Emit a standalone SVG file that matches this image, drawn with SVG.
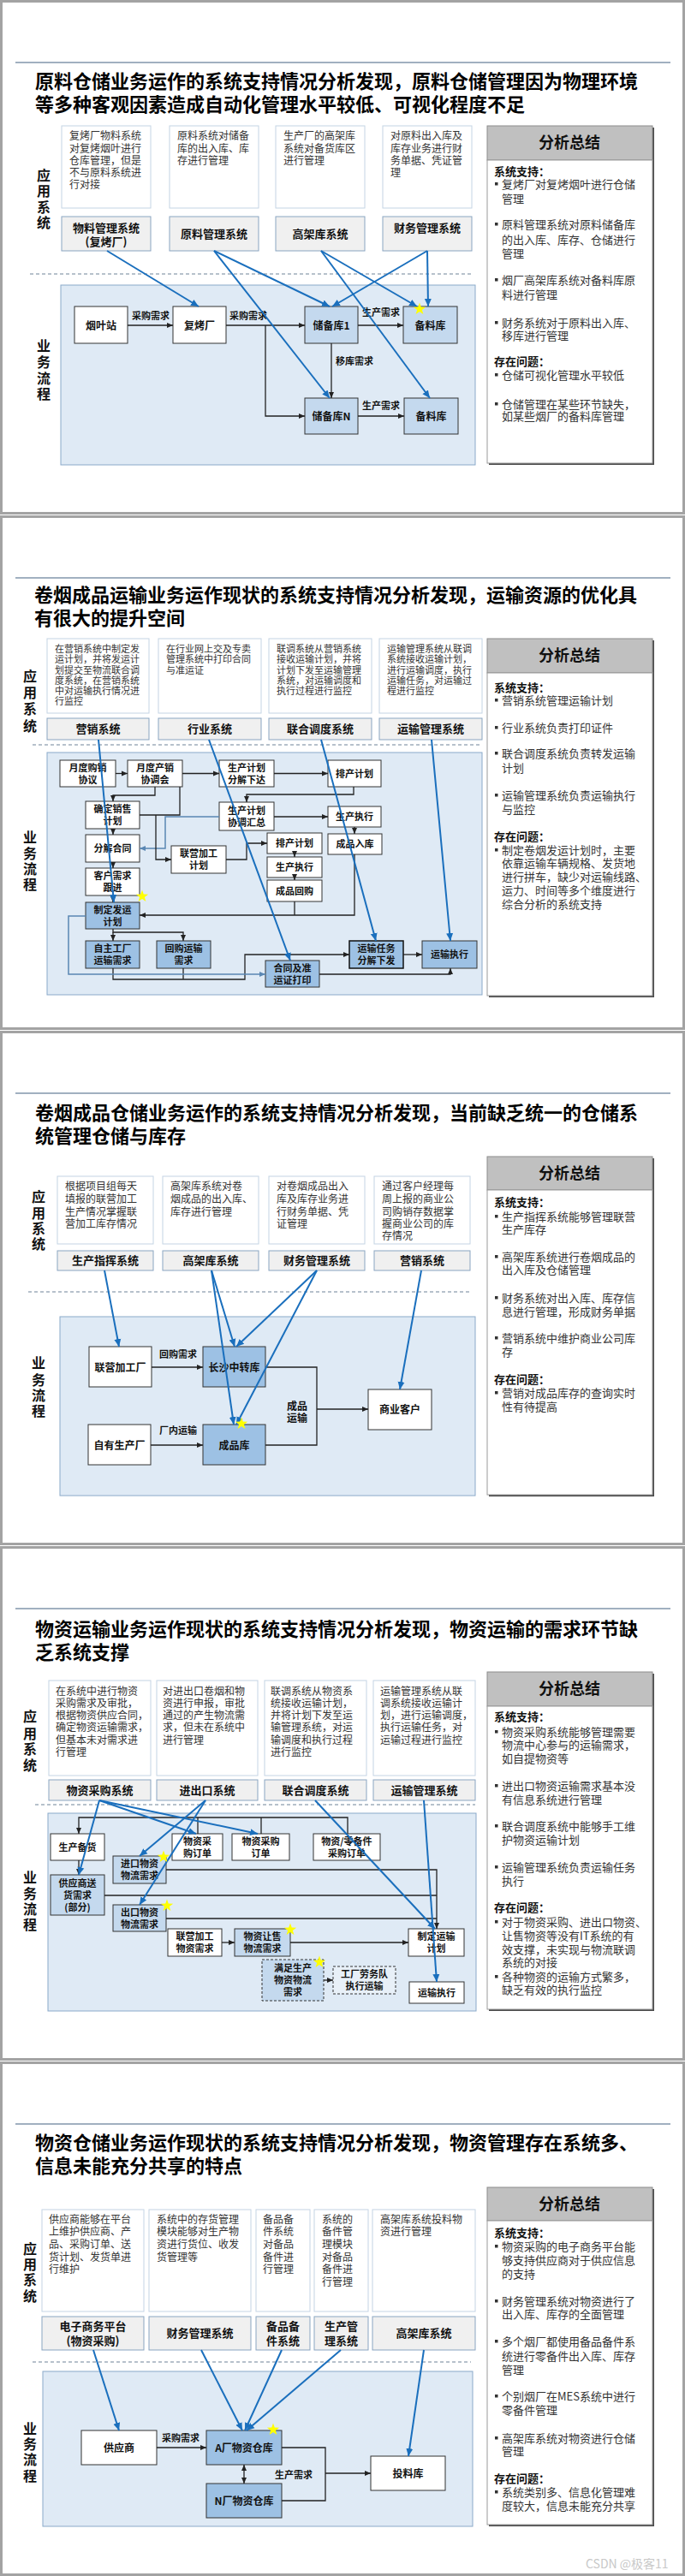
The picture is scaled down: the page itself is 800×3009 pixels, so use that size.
<svg xmlns="http://www.w3.org/2000/svg" width="800" height="3009" viewBox="0 0 800 3009">
<style>
text{font-family:"Noto Sans CJK SC","Liberation Sans",sans-serif}
.frame{fill:#fff;stroke:#a3a3a3;stroke-width:3}
.rule{stroke:#8296ab;stroke-width:1.5}
.title{font-size:22px;font-weight:700;fill:#000}
.desc{fill:#fff;stroke:#c4d4e4}
.dt{font-size:12px;fill:#333}
.dt11{font-size:11px;fill:#333}
.sys{fill:#f0f0f0;stroke:#8aa5c1}
.st{font-size:13px;font-weight:700;fill:#111;text-anchor:middle}
.lane{font-size:16px;font-weight:700;fill:#111;text-anchor:middle}
.dash{stroke:#6f8398;stroke-width:1;stroke-dasharray:4 3}
.proc{fill:#dfeaf5;stroke:#8aa9c9}
.nw{fill:#fff;stroke:#333}
.nb{fill:#c4d9ee;stroke:#333}
.nm{fill:#9dc1e4;stroke:#333}
.nd{fill:#c4d9ee;stroke:#333;stroke-dasharray:3 2}
.nd2{fill:#e8f0f8;stroke:#333;stroke-dasharray:3 2}
.nt{font-size:12px;font-weight:700;fill:#111;text-anchor:middle}
.nt11{font-size:11px;font-weight:700;fill:#111;text-anchor:middle}
.lb{font-size:11px;font-weight:700;fill:#111;text-anchor:middle}
.k{fill:none;stroke:#222;stroke-width:1.3;marker-end:url(#ak)}
.kk{fill:none;stroke:#222;stroke-width:1.3;marker-start:url(#ak);marker-end:url(#ak)}
.kl{fill:none;stroke:#222;stroke-width:1.3}
.ks{fill:none;stroke:#5a87b3;stroke-width:1.5;marker-end:url(#as)}
.b{fill:none;stroke:#1a6fbd;stroke-width:2;marker-end:url(#ab)}
.hdS{fill:#4a4a4a}
.hd{fill:#c0c0c0;stroke:#8c8c8c}
.ht{font-size:18px;font-weight:700;fill:#111;text-anchor:middle}
.bd{fill:#fff;stroke:#9a9a9a}
.pt{font-size:13px;fill:#333}
.ph{font-size:13px;font-weight:700;fill:#111}
.bul{fill:#333}
.star{fill:#ffff00}
.wm{font-size:14px;fill:#c8c8c8}
</style>
<defs>
<marker id="ak" markerUnits="userSpaceOnUse" markerWidth="8" markerHeight="8" refX="7" refY="4" orient="auto-start-reverse"><path d="M0,1 L7,4 L0,7 z" fill="#222"/></marker>
<marker id="as" markerUnits="userSpaceOnUse" markerWidth="8" markerHeight="8" refX="7" refY="4" orient="auto"><path d="M0,1 L7,4 L0,7 z" fill="#5a87b3"/></marker>
<marker id="ab" markerUnits="userSpaceOnUse" markerWidth="10" markerHeight="10" refX="9" refY="5" orient="auto"><path d="M0,1 L9,5 L0,9 z" fill="#1a6fbd"/></marker>
<polygon id="star" points="0,-7.5 1.76,-2.43 7.13,-2.32 2.85,0.93 4.41,6.07 0,3 -4.41,6.07 -2.85,0.93 -7.13,-2.32 -1.76,-2.43"/>
</defs>

<!-- ================= SLIDE 1 ================= -->
<g id="slide1">
<rect class="frame" x="1.5" y="1.5" width="797" height="598"/>
<line class="rule" x1="18" y1="73" x2="783" y2="73"/>
<text class="title" x="41" y="103">原料仓储业务运作的系统支持情况分析发现，原料仓储管理因为物理环境</text>
<text class="title" x="41" y="130">等多种客观因素造成自动化管理水平较低、可视化程度不足</text>
<g id="s1-desc">
<rect class="desc" x="72" y="147" width="104" height="96"/>
<rect class="desc" x="198" y="147" width="104" height="96"/>
<rect class="desc" x="322" y="147" width="104" height="96"/>
<rect class="desc" x="447" y="147" width="104" height="96"/>
<text class="dt"><tspan x="81" y="163">复烤厂物料系统</tspan><tspan x="81" y="177.5">对复烤烟叶进行</tspan><tspan x="81" y="192">仓库管理，但是</tspan><tspan x="81" y="206">不与原料系统进</tspan><tspan x="81" y="220">行对接</tspan></text>
<text class="dt"><tspan x="207" y="163">原料系统对储备</tspan><tspan x="207" y="177.5">库的出入库、库</tspan><tspan x="207" y="192">存进行管理</tspan></text>
<text class="dt"><tspan x="331" y="163">生产厂的高架库</tspan><tspan x="331" y="177.5">系统对备货库区</tspan><tspan x="331" y="192">进行管理</tspan></text>
<text class="dt"><tspan x="456" y="163">对原料出入库及</tspan><tspan x="456" y="177.5">库存业务进行财</tspan><tspan x="456" y="192">务单据、凭证管</tspan><tspan x="456" y="206">理</tspan></text>
</g>
<g id="s1-sys-wl"><rect class="sys" x="72" y="253" width="104" height="40"/><text class="st" x="124" y="271">物料管理系统</text><text class="st" x="124" y="287">(复烤厂)</text></g>
<g id="s1-sys-yl"><rect class="sys" x="198" y="253" width="104" height="40"/><text class="st" x="250" y="278">原料管理系统</text></g>
<g id="s1-sys-gj"><rect class="sys" x="322" y="253" width="104" height="40"/><text class="st" x="374" y="278">高架库系统</text></g>
<g id="s1-sys-cw"><rect class="sys" x="447" y="253" width="104" height="40"/><text class="st" x="499" y="271">财务管理系统</text></g>
<text class="lane" x="51" y="211">应</text><text class="lane" x="51" y="229">用</text><text class="lane" x="51" y="248">系</text><text class="lane" x="51" y="266">统</text>
<line class="dash" x1="35" y1="320" x2="550" y2="320"/>
<rect class="proc" x="71" y="333" width="484" height="210"/>
<text class="lane" x="51" y="410">业</text><text class="lane" x="51" y="429">务</text><text class="lane" x="51" y="448">流</text><text class="lane" x="51" y="466">程</text>
<g id="s1-n1"><rect class="nw" x="87" y="358" width="62" height="43"/><text class="nt" x="118" y="384.5">烟叶站</text></g>
<g id="s1-n2"><rect class="nw" x="202" y="358" width="62" height="43"/><text class="nt" x="233" y="384.5">复烤厂</text></g>
<g id="s1-n3"><rect class="nb" x="356" y="358" width="62" height="43"/><text class="nt" x="387" y="384.5">储备库1</text></g>
<g id="s1-n4"><rect class="nb" x="471" y="358" width="63" height="43"/><text class="nt" x="502.5" y="384.5">备料库</text></g>
<g id="s1-n5"><rect class="nb" x="356" y="465" width="62" height="42"/><text class="nt" x="387" y="490.5">储备库N</text></g>
<g id="s1-n6"><rect class="nb" x="472" y="465" width="63" height="42"/><text class="nt" x="503.5" y="490.5">备料库</text></g>
<g id="s1-connectors">
<path class="k" d="M149,380 H202"/><text class="lb" x="176" y="373">采购需求</text>
<path class="k" d="M264,380 H356"/><text class="lb" x="290" y="373">采购需求</text>
<path class="k" d="M310,380 V486 H356"/>
<path class="k" d="M418,380 H471"/><text class="lb" x="445" y="369">生产需求</text>
<path class="k" d="M387,401 V465"/><text class="lb" x="414" y="426">移库需求</text>
<path class="k" d="M418,486 H472"/><text class="lb" x="445" y="478">生产需求</text>
<path class="b" d="M125,293 L232,358"/>
<path class="b" d="M250,293 L385,358"/>
<path class="b" d="M250,293 L385,465"/>
<path class="b" d="M375,293 L487,358"/>
<path class="b" d="M375,293 L502,465"/>
<path class="b" d="M499,293 L388,358"/>
<path class="b" d="M499,293 L500,358"/>
</g>
<use href="#star" class="star" x="490" y="361"/>
<g id="s1-summary">
<rect class="hdS" x="571" y="149" width="193" height="40"/>
<rect class="hd" x="569" y="147" width="193" height="40"/>
<text class="ht" x="665" y="173">分析总结</text>
<rect class="hdS" x="571" y="189" width="193" height="354"/>
<rect class="bd" x="569" y="187" width="193" height="354"/>
<text class="ph" x="577" y="205">系统支持：</text>
<rect class="bul" x="578" y="213" width="3.5" height="3.5"/><text class="pt" x="586" y="220">复烤厂对复烤烟叶进行仓储</text>
<text class="pt" x="586" y="237">管理</text>
<rect class="bul" x="578" y="260" width="3.5" height="3.5"/><text class="pt" x="586" y="267">原料管理系统对原料储备库</text>
<text class="pt" x="586" y="285">的出入库、库存、仓储进行</text>
<text class="pt" x="586" y="301">管理</text>
<rect class="bul" x="578" y="325" width="3.5" height="3.5"/><text class="pt" x="586" y="332">烟厂高架库系统对备料库原</text>
<text class="pt" x="586" y="349">料进行管理</text>
<rect class="bul" x="578" y="375" width="3.5" height="3.5"/><text class="pt" x="586" y="382">财务系统对于原料出入库、</text>
<text class="pt" x="586" y="397">移库进行管理</text>
<text class="ph" x="577" y="427">存在问题：</text>
<rect class="bul" x="578" y="436" width="3.5" height="3.5"/><text class="pt" x="586" y="443">仓储可视化管理水平较低</text>
<rect class="bul" x="578" y="470" width="3.5" height="3.5"/><text class="pt" x="586" y="477">仓储管理在某些环节缺失，</text>
<text class="pt" x="586" y="491">如某些烟厂的备料库管理</text>
</g>
</g>

<!-- ================= SLIDE 2 ================= -->
<g id="slide2">
<rect class="frame" x="1.5" y="603.5" width="797" height="598"/>
<line class="rule" x1="18" y1="675" x2="783" y2="675"/>
<text class="title" x="40" y="703">卷烟成品运输业务运作现状的系统支持情况分析发现，运输资源的优化具</text>
<text class="title" x="40" y="730">有很大的提升空间</text>
<g id="s2-desc">
<rect class="desc" x="55" y="746" width="119" height="87"/>
<rect class="desc" x="185" y="746" width="120" height="87"/>
<rect class="desc" x="314" y="746" width="120" height="87"/>
<rect class="desc" x="443" y="746" width="120" height="87"/>
<text class="dt11"><tspan x="64" y="762">在营销系统中制定发</tspan><tspan x="64" y="774">运计划，并将发运计</tspan><tspan x="64" y="786.5">划提交至物流联合调</tspan><tspan x="64" y="799">度系统，在营销系统</tspan><tspan x="64" y="811">中对运输执行情况进</tspan><tspan x="64" y="823">行监控</tspan></text>
<text class="dt11"><tspan x="194" y="762">在行业网上交及专卖</tspan><tspan x="194" y="774">管理系统中打印合同</tspan><tspan x="194" y="786.5">与准运证</tspan></text>
<text class="dt11"><tspan x="323" y="762">联调系统从营销系统</tspan><tspan x="323" y="774">接收运输计划，并将</tspan><tspan x="323" y="786.5">计划下发至运输管理</tspan><tspan x="323" y="799">系统，对运输调度和</tspan><tspan x="323" y="811">执行过程进行监控</tspan></text>
<text class="dt11"><tspan x="452" y="762">运输管理系统从联调</tspan><tspan x="452" y="774">系统接收运输计划，</tspan><tspan x="452" y="786.5">进行运输调度，执行</tspan><tspan x="452" y="799">运输任务，对运输过</tspan><tspan x="452" y="811">程进行监控</tspan></text>
</g>
<g id="s2-sys-yx"><rect class="sys" x="55" y="839" width="119" height="25"/><text class="st" x="114.5" y="856">营销系统</text></g>
<g id="s2-sys-hy"><rect class="sys" x="185" y="839" width="120" height="25"/><text class="st" x="245" y="856">行业系统</text></g>
<g id="s2-sys-lh"><rect class="sys" x="314" y="839" width="120" height="25"/><text class="st" x="374" y="856">联合调度系统</text></g>
<g id="s2-sys-ys"><rect class="sys" x="443" y="839" width="120" height="25"/><text class="st" x="503" y="856">运输管理系统</text></g>
<text class="lane" x="35" y="796">应</text><text class="lane" x="35" y="815">用</text><text class="lane" x="35" y="834">系</text><text class="lane" x="35" y="854">统</text>
<line class="dash" x1="38" y1="870" x2="561" y2="870"/>
<rect class="proc" x="55" y="879" width="508" height="283"/>
<text class="lane" x="35" y="984">业</text><text class="lane" x="35" y="1003">务</text><text class="lane" x="35" y="1021">流</text><text class="lane" x="35" y="1039">程</text>
<g id="s2-n1"><rect class="nw" x="70" y="888" width="65" height="31"/><text class="nt11" x="102.5" y="900.5">月度购销</text><text class="nt11" x="102.5" y="914.5">协议</text></g>
<g id="s2-n2"><rect class="nw" x="149" y="888" width="64" height="31"/><text class="nt11" x="181" y="900.5">月度产销</text><text class="nt11" x="181" y="914.5">协调会</text></g>
<g id="s2-n3"><rect class="nw" x="256" y="888" width="64" height="31"/><text class="nt11" x="288" y="900.5">生产计划</text><text class="nt11" x="288" y="914.5">分解下达</text></g>
<g id="s2-n4"><rect class="nw" x="383" y="888" width="62" height="31"/><text class="nt11" x="414" y="907.5">排产计划</text></g>
<g id="s2-n5"><rect class="nw" x="100" y="936" width="63" height="32"/><text class="nt11" x="131.5" y="949">确定销售</text><text class="nt11" x="131.5" y="963">计划</text></g>
<g id="s2-n6"><rect class="nw" x="256" y="937" width="64" height="33"/><text class="nt11" x="288" y="950.5">生产计划</text><text class="nt11" x="288" y="964.5">协调汇总</text></g>
<g id="s2-n7"><rect class="nw" x="383" y="942" width="62" height="24"/><text class="nt11" x="414" y="958">生产执行</text></g>
<g id="s2-n8"><rect class="nw" x="100" y="975" width="63" height="32"/><text class="nt11" x="131.5" y="995">分解合同</text></g>
<g id="s2-n9"><rect class="nw" x="312" y="973" width="64" height="24"/><text class="nt11" x="344" y="989">排产计划</text></g>
<g id="s2-n10"><rect class="nw" x="383" y="974" width="63" height="24"/><text class="nt11" x="414.5" y="990">成品入库</text></g>
<g id="s2-n11"><rect class="nw" x="200" y="988" width="64" height="32"/><text class="nt11" x="232" y="1001">联营加工</text><text class="nt11" x="232" y="1015">计划</text></g>
<g id="s2-n12"><rect class="nw" x="312" y="1001" width="64" height="24"/><text class="nt11" x="344" y="1017">生产执行</text></g>
<g id="s2-n13"><rect class="nw" x="100" y="1014" width="63" height="32"/><text class="nt11" x="131.5" y="1027">客户需求</text><text class="nt11" x="131.5" y="1041">跟进</text></g>
<g id="s2-n14"><rect class="nw" x="312" y="1028" width="64" height="25"/><text class="nt11" x="344" y="1044.5">成品回购</text></g>
<g id="s2-n15"><rect class="nm" x="100" y="1054" width="63" height="31"/><text class="nt11" x="131.5" y="1066.5">制定发运</text><text class="nt11" x="131.5" y="1080.5">计划</text></g>
<g id="s2-n16"><rect class="nm" x="100" y="1099" width="63" height="32"/><text class="nt11" x="131.5" y="1112">自主工厂</text><text class="nt11" x="131.5" y="1126">运输需求</text></g>
<g id="s2-n17"><rect class="nm" x="183" y="1099" width="63" height="32"/><text class="nt11" x="214.5" y="1112">回购运输</text><text class="nt11" x="214.5" y="1126">需求</text></g>
<g id="s2-n18"><rect class="nm" x="310" y="1122" width="63" height="31"/><text class="nt11" x="341.5" y="1134.5">合同及准</text><text class="nt11" x="341.5" y="1148.5">运证打印</text></g>
<g id="s2-n19"><rect class="nm" x="408" y="1099" width="63" height="32" style="stroke:#111;stroke-width:1.5"/><text class="nt11" x="439.5" y="1112">运输任务</text><text class="nt11" x="439.5" y="1126">分解下发</text></g>
<g id="s2-n20"><rect class="nm" x="493" y="1099" width="64" height="32"/><text class="nt11" x="525" y="1119">运输执行</text></g>
<g id="s2-connectors">
<path class="k" d="M135,903.5 H149"/>
<path class="k" d="M213,903.5 H256"/>
<path class="k" d="M320,903.5 H383"/>
<path class="k" d="M181,919 V929 H132 V936"/>
<path class="kl" d="M163,952 H210 V919"/>
<path class="k" d="M413,919 V928 H288 V937"/>
<path class="k" d="M320,954 H383"/>
<path class="k" d="M414,966 V974"/>
<path class="ks" d="M256,954 H193 V991 H163"/>
<path class="k" d="M132,968 V975"/>
<path class="k" d="M182,952 V1004 H200"/>
<path class="k" d="M264,1004 H288 V985 H312"/>
<path class="k" d="M344,997 V1001"/>
<path class="k" d="M344,1025 V1028"/>
<path class="k" d="M132,1007 V1014"/>
<path class="k" d="M132,1046 V1054"/>
<path class="kl" d="M344,1053 V1069"/>
<path class="k" d="M414,998 V1069 H163"/>
<path class="k" d="M132,1085 V1089 H214 V1099"/>
<path class="k" d="M132,1089 V1099"/>
<path class="kl" d="M214,1131 V1144"/>
<path class="k" d="M132,1131 V1144 H286 V1115 H408"/>
<path class="ks" d="M100,1070 H80 V1138 H310"/>
<path class="k" d="M373,1138 H526 V1131"/>
<path class="k" d="M471,1115 H493"/>
<path class="b" d="M115,864 L133,1054"/>
<path class="b" d="M244,864 L339,1122"/>
<path class="b" d="M375,864 L439,1099"/>
<path class="b" d="M504,864 L526,1099"/>
</g>
<use href="#star" class="star" x="166" y="1047"/>
<g id="s2-summary">
<rect class="hdS" x="571" y="748" width="193" height="40"/>
<rect class="hd" x="569" y="746" width="193" height="40"/>
<text class="ht" x="665" y="772">分析总结</text>
<rect class="hdS" x="571" y="788" width="193" height="377"/>
<rect class="bd" x="569" y="786" width="193" height="377"/>
<text class="ph" x="577" y="808">系统支持：</text>
<rect class="bul" x="578" y="816" width="3.5" height="3.5"/><text class="pt" x="586" y="823">营销系统管理运输计划</text>
<rect class="bul" x="578" y="848" width="3.5" height="3.5"/><text class="pt" x="586" y="855">行业系统负责打印证件</text>
<rect class="bul" x="578" y="878" width="3.5" height="3.5"/><text class="pt" x="586" y="885">联合调度系统负责转发运输</text>
<text class="pt" x="586" y="902">计划</text>
<rect class="bul" x="578" y="927" width="3.5" height="3.5"/><text class="pt" x="586" y="934">运输管理系统负责运输执行</text>
<text class="pt" x="586" y="950">与监控</text>
<text class="ph" x="577" y="982">存在问题：</text>
<rect class="bul" x="578" y="991" width="3.5" height="3.5"/><text class="pt" x="586" y="998">制定卷烟发运计划时，主要</text>
<text class="pt" x="586" y="1013">依靠运输车辆规格、发货地</text>
<text class="pt" x="586" y="1029">进行拼车，缺少对运输线路、</text>
<text class="pt" x="586" y="1045">运力、时间等多个维度进行</text>
<text class="pt" x="586" y="1061">综合分析的系统支持</text>
</g>
</g>

<!-- ================= SLIDE 3 ================= -->
<g id="slide3">
<rect class="frame" x="1.5" y="1205.5" width="797" height="598"/>
<line class="rule" x1="18" y1="1277" x2="783" y2="1277"/>
<text class="title" x="41" y="1308">卷烟成品仓储业务运作的系统支持情况分析发现，当前缺乏统一的仓储系</text>
<text class="title" x="41" y="1335">统管理仓储与库存</text>
<g id="s3-desc">
<rect class="desc" x="67" y="1374" width="112" height="79"/>
<rect class="desc" x="190" y="1374" width="112" height="79"/>
<rect class="desc" x="314" y="1374" width="112" height="79"/>
<rect class="desc" x="437" y="1374" width="112" height="79"/>
<text class="dt"><tspan x="76" y="1390">根据项目组每天</tspan><tspan x="76" y="1405">填报的联营加工</tspan><tspan x="76" y="1420">生产情况掌握联</tspan><tspan x="76" y="1434">营加工库存情况</tspan></text>
<text class="dt"><tspan x="199" y="1390">高架库系统对卷</tspan><tspan x="199" y="1405">烟成品的出入库、</tspan><tspan x="199" y="1420">库存进行管理</tspan></text>
<text class="dt"><tspan x="323" y="1390">对卷烟成品出入</tspan><tspan x="323" y="1405">库及库存业务进</tspan><tspan x="323" y="1420">行财务单据、凭</tspan><tspan x="323" y="1434">证管理</tspan></text>
<text class="dt"><tspan x="446" y="1390">通过客户经理每</tspan><tspan x="446" y="1405">周上报的商业公</tspan><tspan x="446" y="1420">司购销存数据掌</tspan><tspan x="446" y="1434">握商业公司的库</tspan><tspan x="446" y="1448">存情况</tspan></text>
</g>
<g id="s3-sys-sc"><rect class="sys" x="67" y="1461" width="112" height="23"/><text class="st" x="123" y="1477">生产指挥系统</text></g>
<g id="s3-sys-gj"><rect class="sys" x="190" y="1461" width="112" height="23"/><text class="st" x="246" y="1477">高架库系统</text></g>
<g id="s3-sys-cw"><rect class="sys" x="314" y="1461" width="112" height="23"/><text class="st" x="370" y="1477">财务管理系统</text></g>
<g id="s3-sys-yx"><rect class="sys" x="437" y="1461" width="112" height="23"/><text class="st" x="493" y="1477">营销系统</text></g>
<text class="lane" x="45" y="1404">应</text><text class="lane" x="45" y="1423">用</text><text class="lane" x="45" y="1441">系</text><text class="lane" x="45" y="1459">统</text>
<line class="dash" x1="33" y1="1509" x2="548" y2="1509"/>
<rect class="proc" x="70" y="1538" width="485" height="209"/>
<text class="lane" x="45" y="1598">业</text><text class="lane" x="45" y="1618">务</text><text class="lane" x="45" y="1636">流</text><text class="lane" x="45" y="1654">程</text>
<g id="s3-n1"><rect class="nw" x="104" y="1573" width="73" height="47"/><text class="nt" x="140.5" y="1601.5">联营加工厂</text></g>
<g id="s3-n2"><rect class="nm" x="237" y="1573" width="73" height="47"/><text class="nt" x="273.5" y="1601.5">长沙中转库</text></g>
<g id="s3-n3"><rect class="nw" x="430" y="1623" width="74" height="47"/><text class="nt" x="467" y="1650.5">商业客户</text></g>
<g id="s3-n4"><rect class="nw" x="103" y="1664" width="73" height="47"/><text class="nt" x="139.5" y="1692.5">自有生产厂</text></g>
<g id="s3-n5"><rect class="nm" x="237" y="1664" width="73" height="47"/><text class="nt" x="273.5" y="1692.5">成品库</text></g>
<g id="s3-connectors">
<path class="k" d="M177,1597 H237"/><text class="lb" x="208" y="1586">回购需求</text>
<path class="k" d="M176,1688 H237"/><text class="lb" x="208" y="1675">厂内运输</text>
<path class="kl" d="M310,1597 H370 V1688 H310"/>
<path class="k" d="M370,1646 H430"/>
<text class="nt" x="347" y="1647">成品</text><text class="nt" x="347" y="1661">运输</text>
<path class="b" d="M122,1484 L139,1573"/>
<path class="b" d="M247,1484 L274,1573"/>
<path class="b" d="M247,1484 L273,1664"/>
<path class="b" d="M370,1484 L276,1573"/>
<path class="b" d="M370,1484 L276,1664"/>
<path class="b" d="M492,1484 L467,1623"/>
</g>
<use href="#star" class="star" x="282" y="1663"/>
<g id="s3-summary">
<rect class="hdS" x="571" y="1353" width="193" height="39"/>
<rect class="hd" x="569" y="1351" width="193" height="39"/>
<text class="ht" x="665" y="1377">分析总结</text>
<rect class="hdS" x="571" y="1392" width="193" height="356"/>
<rect class="bd" x="569" y="1390" width="193" height="356"/>
<text class="ph" x="577" y="1409">系统支持：</text>
<rect class="bul" x="578" y="1419" width="3.5" height="3.5"/><text class="pt" x="586" y="1426">生产指挥系统能够管理联营</text>
<text class="pt" x="586" y="1441">生产库存</text>
<rect class="bul" x="578" y="1466" width="3.5" height="3.5"/><text class="pt" x="586" y="1473">高架库系统进行卷烟成品的</text>
<text class="pt" x="586" y="1488">出入库及仓储管理</text>
<rect class="bul" x="578" y="1514" width="3.5" height="3.5"/><text class="pt" x="586" y="1521">财务系统对出入库、库存信</text>
<text class="pt" x="586" y="1537">息进行管理，形成财务单据</text>
<rect class="bul" x="578" y="1561" width="3.5" height="3.5"/><text class="pt" x="586" y="1568">营销系统中维护商业公司库</text>
<text class="pt" x="586" y="1584">存</text>
<text class="ph" x="577" y="1616">存在问题：</text>
<rect class="bul" x="578" y="1625" width="3.5" height="3.5"/><text class="pt" x="586" y="1632">营销对成品库存的查询实时</text>
<text class="pt" x="586" y="1648">性有待提高</text>
</g>
</g>

<!-- ================= SLIDE 4 ================= -->
<g id="slide4">
<rect class="frame" x="1.5" y="1807.5" width="797" height="598"/>
<line class="rule" x1="18" y1="1879" x2="783" y2="1879"/>
<text class="title" x="41" y="1911">物资运输业务运作现状的系统支持情况分析发现，物资运输的需求环节缺</text>
<text class="title" x="41" y="1938">乏系统支撑</text>
<g id="s4-desc">
<rect class="desc" x="57" y="1963" width="119" height="111"/>
<rect class="desc" x="183" y="1963" width="118" height="111"/>
<rect class="desc" x="309" y="1963" width="119" height="111"/>
<rect class="desc" x="436" y="1963" width="119" height="111"/>
<text class="dt"><tspan x="65" y="1980">在系统中进行物资</tspan><tspan x="65" y="1994">采购需求及审批，</tspan><tspan x="65" y="2008">根据物资供应合同，</tspan><tspan x="65" y="2022">确定物资运输需求，</tspan><tspan x="65" y="2037">但基本未对需求进</tspan><tspan x="65" y="2051">行管理</tspan></text>
<text class="dt"><tspan x="190" y="1980">对进出口卷烟和物</tspan><tspan x="190" y="1994">资进行申报，审批</tspan><tspan x="190" y="2008">通过的产生物流需</tspan><tspan x="190" y="2022">求，但未在系统中</tspan><tspan x="190" y="2037">进行管理</tspan></text>
<text class="dt"><tspan x="316" y="1980">联调系统从物资系</tspan><tspan x="316" y="1994">统接收运输计划，</tspan><tspan x="316" y="2008">并将计划下发至运</tspan><tspan x="316" y="2022">输管理系统，对运</tspan><tspan x="316" y="2037">输调度和执行过程</tspan><tspan x="316" y="2051">进行监控</tspan></text>
<text class="dt"><tspan x="444" y="1980">运输管理系统从联</tspan><tspan x="444" y="1994">调系统接收运输计</tspan><tspan x="444" y="2008">划，进行运输调度，</tspan><tspan x="444" y="2022">执行运输任务，对</tspan><tspan x="444" y="2037">运输过程进行监控</tspan></text>
</g>
<g id="s4-sys-wz"><rect class="sys" x="57" y="2079" width="119" height="24"/><text class="st" x="116.5" y="2096">物资采购系统</text></g>
<g id="s4-sys-jck"><rect class="sys" x="183" y="2079" width="118" height="24"/><text class="st" x="242" y="2096">进出口系统</text></g>
<g id="s4-sys-lh"><rect class="sys" x="309" y="2079" width="119" height="24"/><text class="st" x="368.5" y="2096">联合调度系统</text></g>
<g id="s4-sys-ys"><rect class="sys" x="436" y="2079" width="119" height="24"/><text class="st" x="495.5" y="2096">运输管理系统</text></g>
<text class="lane" x="35" y="2011">应</text><text class="lane" x="35" y="2031">用</text><text class="lane" x="35" y="2049">系</text><text class="lane" x="35" y="2068">统</text>
<line class="dash" x1="41" y1="2108" x2="555" y2="2108"/>
<rect class="proc" x="56" y="2118" width="500" height="231"/>
<text class="lane" x="35" y="2199">业</text><text class="lane" x="35" y="2218">务</text><text class="lane" x="35" y="2236">流</text><text class="lane" x="35" y="2254">程</text>
<g id="s4-n1"><rect class="nw" x="59" y="2142" width="63" height="31"/><text class="nt11" x="90.5" y="2161.5">生产备货</text></g>
<g id="s4-n2"><rect class="nw" x="201" y="2142" width="59" height="31"/><text class="nt11" x="230.5" y="2154.5">物资采</text><text class="nt11" x="230.5" y="2168.5">购订单</text></g>
<g id="s4-n3"><rect class="nw" x="271" y="2142" width="67" height="31"/><text class="nt11" x="304.5" y="2154.5">物资采购</text><text class="nt11" x="304.5" y="2168.5">订单</text></g>
<g id="s4-n4"><rect class="nw" x="366" y="2142" width="78" height="31"/><text class="nt11" x="405" y="2154.5">物资/零备件</text><text class="nt11" x="405" y="2168.5">采购订单</text></g>
<g id="s4-n5"><rect class="nb" x="132" y="2168" width="62" height="32"/><text class="nt11" x="163" y="2181">进口物资</text><text class="nt11" x="163" y="2195">物流需求</text></g>
<g id="s4-n6"><rect class="nb" x="59" y="2190" width="63" height="47"/><text class="nt11" x="90.5" y="2203.5">供应商送</text><text class="nt11" x="90.5" y="2217.5">货需求</text><text class="nt11" x="90.5" y="2231.5">(部分)</text></g>
<g id="s4-n7"><rect class="nb" x="132" y="2225" width="62" height="31"/><text class="nt11" x="163" y="2237.5">出口物资</text><text class="nt11" x="163" y="2251.5">物流需求</text></g>
<g id="s4-n8"><rect class="nw" x="196" y="2253" width="63" height="32"/><text class="nt11" x="227.5" y="2266">联营加工</text><text class="nt11" x="227.5" y="2280">物资需求</text></g>
<g id="s4-n9"><rect class="nb" x="274" y="2253" width="65" height="32"/><text class="nt11" x="306.5" y="2266">物资让售</text><text class="nt11" x="306.5" y="2280">物流需求</text></g>
<g id="s4-n10"><rect class="nw" x="477" y="2253" width="65" height="32"/><text class="nt11" x="509.5" y="2266">制定运输</text><text class="nt11" x="509.5" y="2280">计划</text></g>
<g id="s4-n11"><rect class="nd" x="306" y="2289" width="72" height="48"/><text class="nt11" x="342" y="2303">满足生产</text><text class="nt11" x="342" y="2317">物资物流</text><text class="nt11" x="342" y="2331">需求</text></g>
<g id="s4-n12"><rect class="nd2" x="389" y="2297" width="73" height="32"/><text class="nt11" x="425.5" y="2310">工厂劳务队</text><text class="nt11" x="425.5" y="2324">执行运输</text></g>
<g id="s4-n13"><rect class="nw" x="478" y="2315" width="64" height="25"/><text class="nt11" x="510" y="2331.5">运输执行</text></g>
<g id="s4-connectors">
<path class="k" d="M406,2142 V2123 H92 V2142"/>
<path class="kl" d="M231,2123 V2142"/>
<path class="kl" d="M305,2123 V2142"/>
<path class="k" d="M92,2173 V2190"/>
<path class="k" d="M194,2184 H510 V2253"/>
<path class="kl" d="M122,2214 H510"/>
<path class="kl" d="M194,2241 H510"/>
<path class="k" d="M259,2269 H274"/>
<path class="k" d="M339,2269 H477"/>
<path class="k" d="M378,2313 H389"/>
<path class="b" d="M116,2103 L92,2190"/>
<path class="b" d="M116,2103 L229,2142"/>
<path class="b" d="M116,2103 L301,2142"/>
<path class="b" d="M240,2103 L163,2168"/>
<path class="b" d="M240,2103 L163,2225"/>
<path class="b" d="M368,2103 L508,2253"/>
<path class="b" d="M495,2103 L510,2315"/>
</g>
<use href="#star" class="star" x="191" y="2169"/>
<use href="#star" class="star" x="195" y="2226"/>
<use href="#star" class="star" x="339" y="2254"/>
<use href="#star" class="star" x="373" y="2292"/>
<g id="s4-summary">
<rect class="hdS" x="571" y="1955" width="193" height="40"/>
<rect class="hd" x="569" y="1953" width="193" height="40"/>
<text class="ht" x="665" y="1979">分析总结</text>
<rect class="hdS" x="571" y="1995" width="193" height="354"/>
<rect class="bd" x="569" y="1993" width="193" height="354"/>
<text class="ph" x="577" y="2010">系统支持：</text>
<rect class="bul" x="578" y="2021" width="3.5" height="3.5"/><text class="pt" x="586" y="2028">物资采购系统能够管理需要</text>
<text class="pt" x="586" y="2043">物流中心参与的运输需求，</text>
<text class="pt" x="586" y="2059">如自提物资等</text>
<rect class="bul" x="578" y="2084" width="3.5" height="3.5"/><text class="pt" x="586" y="2091">进出口物资运输需求基本没</text>
<text class="pt" x="586" y="2107">有信息系统进行管理</text>
<rect class="bul" x="578" y="2131" width="3.5" height="3.5"/><text class="pt" x="586" y="2138">联合调度系统中能够手工维</text>
<text class="pt" x="586" y="2154">护物资运输计划</text>
<rect class="bul" x="578" y="2179" width="3.5" height="3.5"/><text class="pt" x="586" y="2186">运输管理系统负责运输任务</text>
<text class="pt" x="586" y="2202">执行</text>
<text class="ph" x="577" y="2233">存在问题：</text>
<rect class="bul" x="578" y="2243" width="3.5" height="3.5"/><text class="pt" x="586" y="2250">对于物资采购、进出口物资、</text>
<text class="pt" x="586" y="2266">让售物资等没有IT系统的有</text>
<text class="pt" x="586" y="2282">效支撑，未实现与物流联调</text>
<text class="pt" x="586" y="2297">系统的对接</text>
<rect class="bul" x="578" y="2307" width="3.5" height="3.5"/><text class="pt" x="586" y="2314">各种物资的运输方式繁多，</text>
<text class="pt" x="586" y="2329">缺乏有效的执行监控</text>
</g>
</g>

<!-- ================= SLIDE 5 ================= -->
<g id="slide5">
<rect class="frame" x="1.5" y="2409.5" width="797" height="598"/>
<line class="rule" x1="18" y1="2481" x2="783" y2="2481"/>
<text class="title" x="41" y="2511">物资仓储业务运作现状的系统支持情况分析发现，物资管理存在系统多、</text>
<text class="title" x="41" y="2538">信息未能充分共享的特点</text>
<g id="s5-desc">
<rect class="desc" x="49" y="2581" width="119" height="119"/>
<rect class="desc" x="174" y="2581" width="119" height="119"/>
<rect class="desc" x="299" y="2581" width="63" height="119"/>
<rect class="desc" x="367" y="2581" width="63" height="119"/>
<rect class="desc" x="435" y="2581" width="120" height="119"/>
<text class="dt"><tspan x="57" y="2597">供应商能够在平台</tspan><tspan x="57" y="2611">上维护供应商、产</tspan><tspan x="57" y="2626">品、采购订单、送</tspan><tspan x="57" y="2641">货计划、发货单进</tspan><tspan x="57" y="2655">行维护</tspan></text>
<text class="dt"><tspan x="183" y="2597">系统中的存货管理</tspan><tspan x="183" y="2611">模块能够对生产物</tspan><tspan x="183" y="2626">资进行货位、收发</tspan><tspan x="183" y="2641">货管理等</tspan></text>
<text class="dt"><tspan x="307" y="2597">备品备</tspan><tspan x="307" y="2611">件系统</tspan><tspan x="307" y="2626">对备品</tspan><tspan x="307" y="2641">备件进</tspan><tspan x="307" y="2655">行管理</tspan></text>
<text class="dt"><tspan x="376" y="2597">系统的</tspan><tspan x="376" y="2611">备件管</tspan><tspan x="376" y="2626">理模块</tspan><tspan x="376" y="2641">对备品</tspan><tspan x="376" y="2655">备件进</tspan><tspan x="376" y="2670">行管理</tspan></text>
<text class="dt"><tspan x="444" y="2597">高架库系统投料物</tspan><tspan x="444" y="2611">资进行管理</tspan></text>
</g>
<g id="s5-sys-dz"><rect class="sys" x="49" y="2706" width="119" height="39"/><text class="st" x="108.5" y="2722">电子商务平台</text><text class="st" x="108.5" y="2739">(物资采购)</text></g>
<g id="s5-sys-cw"><rect class="sys" x="174" y="2706" width="119" height="39"/><text class="st" x="233.5" y="2730">财务管理系统</text></g>
<g id="s5-sys-bp"><rect class="sys" x="299" y="2706" width="63" height="39"/><text class="st" x="330.5" y="2722">备品备</text><text class="st" x="330.5" y="2739">件系统</text></g>
<g id="s5-sys-sc"><rect class="sys" x="367" y="2706" width="63" height="39"/><text class="st" x="398.5" y="2722">生产管</text><text class="st" x="398.5" y="2739">理系统</text></g>
<g id="s5-sys-gj"><rect class="sys" x="435" y="2706" width="120" height="39"/><text class="st" x="495" y="2730">高架库系统</text></g>
<text class="lane" x="35" y="2633">应</text><text class="lane" x="35" y="2651">用</text><text class="lane" x="35" y="2669">系</text><text class="lane" x="35" y="2688">统</text>
<line class="dash" x1="38" y1="2759" x2="550" y2="2759"/>
<rect class="proc" x="50" y="2770" width="502" height="181"/>
<text class="lane" x="35" y="2843">业</text><text class="lane" x="35" y="2861">务</text><text class="lane" x="35" y="2879">流</text><text class="lane" x="35" y="2898">程</text>
<g id="s5-n1"><rect class="nw" x="95" y="2839" width="88" height="40"/><text class="nt" x="139" y="2863.5">供应商</text></g>
<g id="s5-n2"><rect class="nm" x="241" y="2839" width="88" height="40"/><text class="nt" x="285" y="2863.5">A厂物资仓库</text></g>
<g id="s5-n3"><rect class="nm" x="241" y="2901" width="88" height="40"/><text class="nt" x="285" y="2925.5">N厂物资仓库</text></g>
<g id="s5-n4"><rect class="nw" x="433" y="2869" width="87" height="40"/><text class="nt" x="476.5" y="2893.5">投料库</text></g>
<g id="s5-connectors">
<path class="k" d="M183,2859 H241"/><text class="lb" x="211" y="2852">采购需求</text>
<path class="kk" d="M285,2879 V2901"/>
<path class="kl" d="M329,2859 H380 V2921 H329"/>
<path class="k" d="M380,2889 H433"/><text class="lb" x="343" y="2895">生产需求</text>
<path class="b" d="M109,2745 L139,2839"/>
<path class="b" d="M235,2745 L283,2839"/>
<path class="b" d="M329,2745 L286,2839"/>
<path class="b" d="M398,2745 L288,2839"/>
<path class="b" d="M495,2745 L477,2869"/>
</g>
<use href="#star" class="star" x="319" y="2838"/>
<g id="s5-summary">
<rect class="hdS" x="571" y="2557" width="193" height="39"/>
<rect class="hd" x="569" y="2555" width="193" height="39"/>
<text class="ht" x="665" y="2581">分析总结</text>
<rect class="hdS" x="571" y="2596" width="193" height="355"/>
<rect class="bd" x="569" y="2594" width="193" height="355"/>
<text class="ph" x="577" y="2613">系统支持：</text>
<rect class="bul" x="578" y="2622" width="3.5" height="3.5"/><text class="pt" x="586" y="2629">物资采购的电子商务平台能</text>
<text class="pt" x="586" y="2645">够支持供应商对于供应信息</text>
<text class="pt" x="586" y="2661">的支持</text>
<rect class="bul" x="578" y="2686" width="3.5" height="3.5"/><text class="pt" x="586" y="2693">财务管理系统对物资进行了</text>
<text class="pt" x="586" y="2708">出入库、库存的全面管理</text>
<rect class="bul" x="578" y="2733" width="3.5" height="3.5"/><text class="pt" x="586" y="2740">多个烟厂都使用备品备件系</text>
<text class="pt" x="586" y="2757">统进行零备件出入库、库存</text>
<text class="pt" x="586" y="2773">管理</text>
<rect class="bul" x="578" y="2797" width="3.5" height="3.5"/><text class="pt" x="586" y="2804">个别烟厂在MES系统中进行</text>
<text class="pt" x="586" y="2820">零备件管理</text>
<rect class="bul" x="578" y="2846" width="3.5" height="3.5"/><text class="pt" x="586" y="2853">高架库系统对物资进行仓储</text>
<text class="pt" x="586" y="2868">管理</text>
<text class="ph" x="577" y="2900">存在问题：</text>
<rect class="bul" x="578" y="2909" width="3.5" height="3.5"/><text class="pt" x="586" y="2916">系统类别多、信息化管理难</text>
<text class="pt" x="586" y="2932">度较大，信息未能充分共享</text>
</g>
<text class="wm" x="684" y="3000">CSDN @极客11</text>
</g>
</svg>
